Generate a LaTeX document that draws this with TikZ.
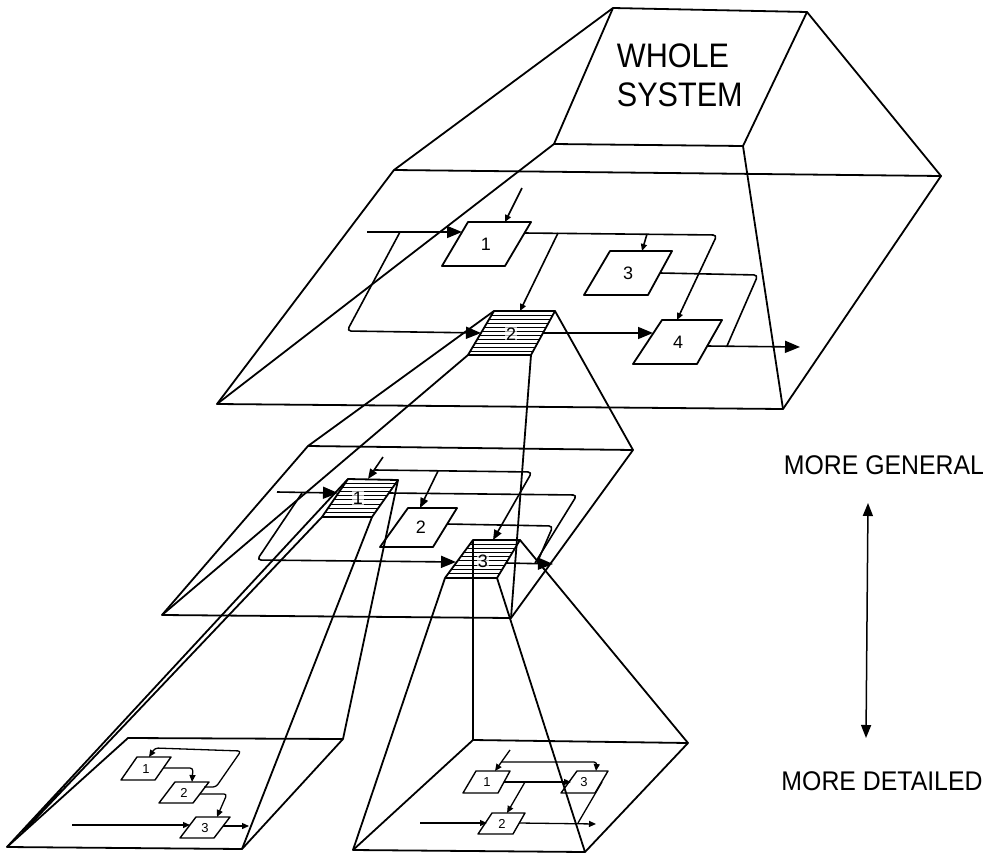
\documentclass[tikz,border=0pt]{standalone}
\usepackage{fontspec}
\setmainfont{Liberation Sans}
\usetikzlibrary{arrows.meta}
\begin{document}
\begin{tikzpicture}[x=1pt,y=-1pt, line width=1.8pt, line join=round,
  big/.style={-{Triangle[length=15pt,width=12pt]}},
  med/.style={-{Triangle[length=10pt,width=8pt]}},
  sml/.style={-{Triangle[length=7pt,width=6pt]}},
  flow/.style={line width=1.6pt, rounded corners=4pt},
  bflow/.style={line width=1.3pt, rounded corners=3pt},
  frame/.style={line width=1.8pt},
  sbox/.style={line width=1.4pt},
  hatch/.style={line width=0.9pt},
  lbl/.style={font=\fontsize{18}{18}\selectfont, inner sep=0pt},
  hlbl/.style={lbl, inner sep=0.6pt, fill=white, fill opacity=0.65, text opacity=1},
  slbl/.style={font=\fontsize{13}{13}\selectfont, inner sep=0pt},
  big text/.style={font=\fontsize{34}{34}\selectfont, inner sep=0pt, anchor=base west},
  side text/.style={font=\fontsize{27}{27}\selectfont, inner sep=0pt, anchor=base}
]
\useasboundingbox (0,0) rectangle (999,854);

% ---------- top frustum ----------
\coordinate (fTL) at (613,8);   \coordinate (fTR) at (807,12);
\coordinate (fBR) at (743,146); \coordinate (fBL) at (554,144);
\coordinate (rTL) at (394,170); \coordinate (rTR) at (941,176);
\coordinate (rBR) at (783,409); \coordinate (rBL) at (217,404);
\draw[frame] (fTL)--(fTR)--(fBR)--(fBL)--cycle;
\draw[frame] (rTL)--(rTR)--(rBR)--(rBL)--cycle;
\draw[frame] (fTL)--(rTL) (fTR)--(rTR) (fBR)--(rBR) (fBL)--(rBL);
\node[big text] (w1) at (616,67) {\scalebox{0.9}[1]{WHOLE}};
\node[big text] (w2) at (616,106) {\scalebox{0.9}[1]{SYSTEM}};

% ---------- top layer boxes ----------
\coordinate (t1a) at (468,222); \coordinate (t1b) at (531,222); \coordinate (t1c) at (505,266); \coordinate (t1d) at (442,266);
\coordinate (t2a) at (494,311); \coordinate (t2b) at (555,311); \coordinate (t2c) at (531,355); \coordinate (t2d) at (468,355);
\coordinate (t3a) at (610,251); \coordinate (t3b) at (672,251); \coordinate (t3c) at (648,295); \coordinate (t3d) at (584,295);
\coordinate (t4a) at (662,320); \coordinate (t4b) at (722,320); \coordinate (t4c) at (697,364); \coordinate (t4d) at (633,364);
\begin{scope}
\clip (t2a)--(t2b)--(t2c)--(t2d)--cycle;
\foreach \yy in {315,319,...,353} \draw[hatch] (450,\yy)--(570,\yy);
\end{scope}
\draw[frame] (t1a)--(t1b)--(t1c)--(t1d)--cycle;
\draw[frame] (t2a)--(t2b)--(t2c)--(t2d)--cycle;
\draw[frame] (t3a)--(t3b)--(t3c)--(t3d)--cycle;
\draw[frame] (t4a)--(t4b)--(t4c)--(t4d)--cycle;
\node[lbl] (l1) at (486,244) {1};
\node[hlbl] (l2) at (511,334) {2};
\node[lbl] (l3) at (628,273) {3};
\node[lbl] (l4) at (678,342) {4};

% top layer flows
\draw[flow,sml] (522,188) -- (505,222);
\draw[flow,big] (367,232) -- (462,232);
\draw[flow,big] (400,232) -- (347,331) -- (481,333);
\draw[flow,sml] (524,233) -- (717,235) -- (677,320);
\draw[flow,sml] (558,233) -- (520,311);
\draw[flow,sml] (647,234) -- (642,251);
\draw[flow,big] (543,333) -- (653,333);
\draw[flow] (660,273) -- (758,275) -- (727,346);
\draw[flow,big] (707,346) -- (800,347);

% ---------- middle frustum ----------
\coordinate (mTL) at (308,446); \coordinate (mTR) at (633,450);
\coordinate (mBR) at (511,618); \coordinate (mBL) at (162,615);
\draw[frame] (mTL)--(mTR)--(mBR)--(mBL)--cycle;
\draw[frame] (t2a)--(mTL) (t2b)--(mTR) (t2c)--(mBR) (t2d)--(mBL);

\coordinate (m1a) at (348,479); \coordinate (m1b) at (398,480); \coordinate (m1c) at (372,517); \coordinate (m1d) at (322,517);
\coordinate (m2a) at (408,508); \coordinate (m2b) at (457,508); \coordinate (m2c) at (433,547); \coordinate (m2d) at (380,547);
\coordinate (m3a) at (473,540); \coordinate (m3b) at (520,540); \coordinate (m3c) at (497,578); \coordinate (m3d) at (445,578);
\begin{scope}
\clip (m1a)--(m1b)--(m1c)--(m1d)--cycle;
\foreach \yy in {483,487.2,...,516} \draw[hatch] (310,\yy)--(410,\yy);
\end{scope}
\begin{scope}
\clip (m3a)--(m3b)--(m3c)--(m3d)--cycle;
\foreach \yy in {544,548.2,...,577} \draw[hatch] (430,\yy)--(530,\yy);
\end{scope}
\draw[frame] (m1a)--(m1b)--(m1c)--(m1d)--cycle;
\draw[frame] (m2a)--(m2b)--(m2c)--(m2d)--cycle;
\draw[frame] (m3a)--(m3b)--(m3c)--(m3d)--cycle;
\node[hlbl] (n1) at (358,498) {1};
\node[lbl] (n2) at (421,527) {2};
\node[hlbl] (n3) at (483,561) {3};

% middle flows
\draw[flow,med] (383,457) -- (368,479);
\draw[flow,med] (375,470) -- (532,472) -- (493,540);
\draw[flow,med] (438,471) -- (420,508);
\draw[flow,big] (277,492) -- (338,493);
\draw[flow,big] (302,493) -- (257,560) -- (456,562);
\draw[flow] (389,493) -- (577,495) -- (535,563);
\draw[flow] (447,524) -- (553,526) -- (537,563);
\draw[flow,big] (506,563) -- (553,564);

% ---------- bottom-left frustum ----------
\coordinate (aTL) at (128,738); \coordinate (aTR) at (343,739);
\coordinate (aBR) at (242,849); \coordinate (aBL) at (7,847);
\coordinate (aL) at (23,832);
\draw[frame] (aTL)--(aTR)--(aBR)--(aBL)--cycle;
\draw[frame] (m1a)--(aBL) (m1d)--(aL) (m1b)--(aTR) (m1c)--(aBR);

\coordinate (b1a) at (137,757); \coordinate (b1b) at (171,757); \coordinate (b1c) at (155,780); \coordinate (b1d) at (121,780);
\coordinate (b2a) at (175,782); \coordinate (b2b) at (209,782); \coordinate (b2c) at (193,803); \coordinate (b2d) at (159,803);
\coordinate (b3a) at (196,817); \coordinate (b3b) at (230,817); \coordinate (b3c) at (214,838); \coordinate (b3d) at (180,838);
\draw[sbox] (b1a)--(b1b)--(b1c)--(b1d)--cycle;
\draw[sbox] (b2a)--(b2b)--(b2c)--(b2d)--cycle;
\draw[sbox] (b3a)--(b3b)--(b3c)--(b3d)--cycle;
\node[slbl] (p1) at (146,769) {1};
\node[slbl] (p2) at (184,793) {2};
\node[slbl] (p3) at (205,828) {3};
\draw[bflow,sml] (204,787) -- (216,787) -- (241,751) -- (155,748) -- (149,757);
\draw[bflow,sml] (163,768) -- (193,768) -- (192,782);
\draw[bflow,sml] (200,794) -- (227,794) -- (217,817);
\draw[bflow,sml] (72,825) -- (190,825);
\draw[bflow,sml] (223,826) -- (249,826);

% ---------- bottom-right frustum ----------
\coordinate (cTL) at (473,740); \coordinate (cTR) at (688,743);
\coordinate (cBR) at (585,852); \coordinate (cBL) at (353,850);
\draw[frame] (cTL)--(cTR)--(cBR)--(cBL)--cycle;
\draw[frame] (m3a)--(cTL) (m3b)--(cTR) (m3c)--(cBR) (m3d)--(cBL);

\coordinate (d1a) at (476,771); \coordinate (d1b) at (510,771); \coordinate (d1c) at (498,793); \coordinate (d1d) at (463,793);
\coordinate (d3a) at (577,771); \coordinate (d3b) at (608,771); \coordinate (d3c) at (595,793); \coordinate (d3d) at (561,793);
\coordinate (d2a) at (492,813); \coordinate (d2b) at (525,813); \coordinate (d2c) at (513,834); \coordinate (d2d) at (478,834);
\draw[sbox] (d1a)--(d1b)--(d1c)--(d1d)--cycle;
\draw[sbox] (d3a)--(d3b)--(d3c)--(d3d)--cycle;
\draw[sbox] (d2a)--(d2b)--(d2c)--(d2d)--cycle;
\node[slbl] (q1) at (487,782) {1};
\node[slbl] (q3) at (584,782) {3};
\node[slbl] (q2) at (502,824) {2};
\draw[bflow,sml] (510,750) -- (495,771);
\draw[bflow,sml] (501,762) -- (597,762) -- (596,771);
\draw[bflow,sml] (504,782) -- (571,782);
\draw[bflow,sml] (525,782) -- (507,813);
\draw[bflow,sml] (420,823) -- (487,823);
\draw[bflow,sml] (519,823) -- (596,824);
\draw[bflow] (602,782) -- (578,823);

% ---------- right side legend ----------
\node[side text] (gen) at (884,474) {\scalebox{0.92}[1]{MORE GENERAL}};
\node[side text] (det) at (882,790) {\scalebox{0.92}[1]{MORE DETAILED}};
\coordinate (aup) at (868,503); \coordinate (adn) at (866,738);
\draw[line width=1.5pt, {Triangle[length=13pt,width=10pt]}-{Triangle[length=13pt,width=10pt]}] (aup) -- (adn);
\end{tikzpicture}
\end{document}
